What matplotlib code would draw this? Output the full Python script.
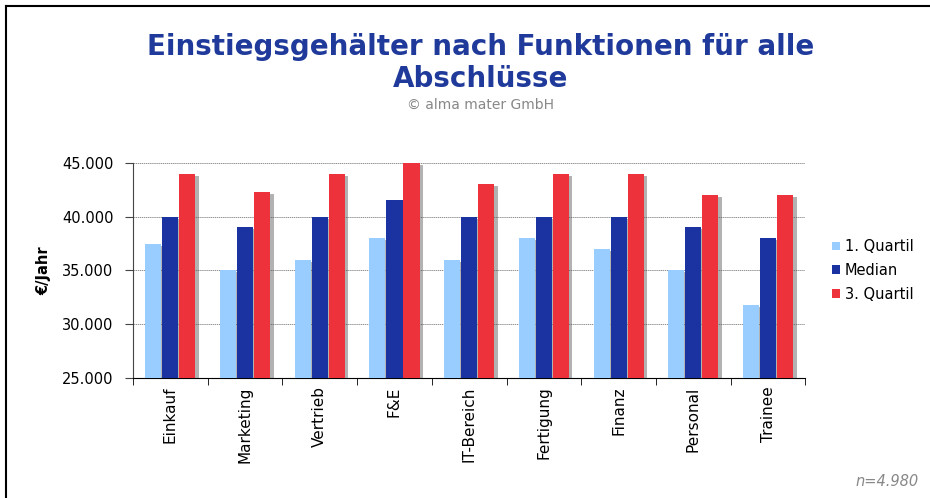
import matplotlib
matplotlib.use("Agg")
import matplotlib.pyplot as plt
import matplotlib.patheffects as pe
from matplotlib.lines import Line2D
import numpy as np

categories = ["Einkauf", "Marketing", "Vertrieb", "F&E", "IT-Bereich",
              "Fertigung", "Finanz", "Personal", "Trainee"]
q1 = [37500, 35000, 36000, 38000, 36000, 38000, 37000, 35000, 31750]
median = [40000, 39000, 40000, 41500, 40000, 40000, 40000, 39000, 38000]
q3 = [44000, 42300, 44000, 45000, 43000, 44000, 44000, 42000, 42000]
series_names = ["1. Quartil", "Median", "3. Quartil"]
colors = ["#99CCFF", "#1A33A0", "#EE323C"]
yticks = [25000, 30000, 35000, 40000, 45000]
ytick_labels = ["25.000", "30.000", "35.000", "40.000", "45.000"]

plt.rcParams['font.family'] = ['DejaVu Sans']

fig = plt.figure(figsize=(9.3, 4.98), dpi=100)
# frame: top and left edges only
fig.add_artist(Line2D([0.0065, 1.0], [0.988, 0.988], transform=fig.transFigure,
                      color="black", linewidth=1.5))
fig.add_artist(Line2D([0.0065, 0.0065], [0.0, 0.988], transform=fig.transFigure,
                      color="black", linewidth=1.5))
ax = fig.add_axes([0.143, 0.241, 0.723, 0.432])

x = np.arange(len(categories))
w = 0.215
offsets = [-0.228, 0.0, 0.228]
shadow = [pe.SimplePatchShadow(offset=(2.5, -1.5), shadow_rgbFace="#555555", alpha=0.45), pe.Normal()]
for vals, off, col, name in zip([q1, median, q3], offsets, colors, series_names):
    bars = ax.bar(x + off, vals, width=w, color=col, label=name, zorder=3)
    for b in bars:
        b.set_path_effects(shadow)

ax.set_ylim(25000, 45000)
ax.set_xlim(-0.5, len(categories) - 0.5)
ax.set_yticks(yticks)
ax.set_yticklabels(ytick_labels, fontsize=10.5)
ax.set_xticks(x)
ax.set_xticklabels(categories, rotation=90, fontsize=11)
ax.tick_params(axis="x", length=0, pad=6)
ax.set_xticks(np.arange(-0.5, len(categories), 1.0), minor=True)
ax.tick_params(axis="x", which="minor", length=5, color="black")
ax.tick_params(axis="y", length=6, pad=8, color="#444444")
ax.yaxis.grid(True, linestyle=(0, (2, 1)), color="#666666", linewidth=0.5, zorder=0)
ax.set_axisbelow(True)
for s in ["top", "right"]:
    ax.spines[s].set_visible(False)
ax.spines["left"].set_color("#444444")
ax.spines["bottom"].set_color("black")
ax.set_ylabel("€/Jahr", fontsize=10.5, fontweight="bold", labelpad=8)

leg = ax.legend(loc="center left", bbox_to_anchor=(1.02, 0.5), frameon=False,
                fontsize=10.5, handlelength=0.55, handleheight=0.55, handletextpad=0.35,
                labelspacing=0.6)
for h in leg.legend_handles:
    h.set_path_effects([])

fig.text(0.517, 0.905, "Einstiegsgehälter nach Funktionen für alle", ha="center", va="center",
         fontsize=20, fontweight="bold", color="#1F3A9A")
fig.text(0.517, 0.842, "Abschlüsse", ha="center", va="center",
         fontsize=20, fontweight="bold", color="#1F3A9A")
fig.text(0.517, 0.790, "© alma mater GmbH", ha="center", va="center",
         fontsize=10, color="#888888")
fig.text(0.988, 0.034, "n=4.980", ha="right", va="center", fontsize=10.5,
         style="italic", color="#888888")

fig.savefig("out.png", dpi=100)
